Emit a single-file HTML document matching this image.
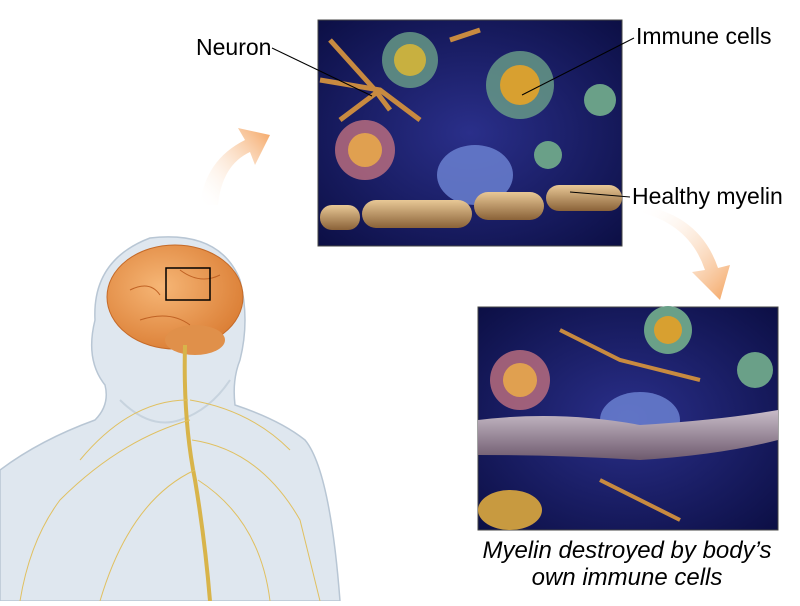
<!DOCTYPE html>
<html><head><style>
body{margin:0;background:#fff;width:800px;height:601px;overflow:hidden;font-family:"Liberation Sans",sans-serif}
</style></head><body>
<svg width="800" height="601" viewBox="0 0 800 601" xmlns="http://www.w3.org/2000/svg">
<defs>
<linearGradient id="ar1" x1="0" y1="1" x2="1" y2="0"><stop offset="0" stop-color="#fff" stop-opacity="0"/><stop offset="1" stop-color="#f4a460"/></linearGradient>
<linearGradient id="ar2" x1="0" y1="0" x2="1" y2="1"><stop offset="0" stop-color="#fff" stop-opacity="0"/><stop offset="1" stop-color="#f4a460"/></linearGradient>
<radialGradient id="bg1" cx="0.5" cy="0.5" r="0.7"><stop offset="0" stop-color="#2a2f8a"/><stop offset="1" stop-color="#0c0f45"/></radialGradient>
<radialGradient id="brain" cx="0.4" cy="0.4" r="0.7"><stop offset="0" stop-color="#f6b676"/><stop offset="1" stop-color="#d97a30"/></radialGradient>
<linearGradient id="myel" x1="0" y1="0" x2="0" y2="1"><stop offset="0" stop-color="#e8c896"/><stop offset="1" stop-color="#8a6238"/></linearGradient>
<linearGradient id="myel2" x1="0" y1="0" x2="0" y2="1"><stop offset="0" stop-color="#c8bcc8"/><stop offset="1" stop-color="#6e5a6e"/></linearGradient>
</defs>
<path d="M0 470 Q40 440 95 420 Q110 405 105 385 Q85 360 95 320 Q92 260 150 238 Q220 230 240 280 Q250 320 240 360 Q232 380 235 405 Q280 420 305 440 Q330 470 340 601 L0 601 Z" fill="#dfe7ef" stroke="#b8c6d4" stroke-width="1.5"/>
<path d="M120 400 Q150 430 180 420 Q210 410 230 380" fill="none" stroke="#c7d3de" stroke-width="2"/>
<ellipse cx="175" cy="297" rx="68" ry="52" fill="url(#brain)" stroke="#c56a28"/>
<ellipse cx="195" cy="340" rx="30" ry="15" fill="#e0904a"/>
<path d="M130 290 Q150 280 160 295 M180 270 Q200 285 220 275 M140 320 Q170 310 190 325" stroke="#c06224" fill="none"/>
<rect x="166" y="268" width="44" height="32" fill="none" stroke="#000" stroke-width="1.5"/>
<path d="M185 345 Q183 420 195 480 Q205 540 210 601" stroke="#d8b44a" stroke-width="4" fill="none"/>
<g stroke="#e0c060" stroke-width="1" fill="none">
<path d="M190 420 Q120 440 60 500 Q30 540 20 601"/><path d="M192 440 Q260 450 300 520 L320 601"/>
<path d="M195 470 Q130 500 100 601"/><path d="M198 480 Q260 520 270 601"/>
<path d="M188 400 Q130 400 80 460"/><path d="M190 400 Q250 410 290 450"/>
</g>
<path d="M200 205 Q205 160 245 140 L238 128 L270 135 L255 165 L250 152 Q222 165 218 205 Z" fill="url(#ar1)"/>
<path d="M640 212 Q690 225 705 270 L692 272 L720 300 L730 265 L718 268 Q700 215 640 205 Z" fill="url(#ar2)"/>
<rect x="318" y="20" width="304" height="226" fill="url(#bg1)" stroke="#444"/>
<g>
<circle cx="410" cy="60" r="28" fill="#6aa088" opacity=".8"/><circle cx="410" cy="60" r="16" fill="#c8b040"/>
<circle cx="520" cy="85" r="34" fill="#6aa088" opacity=".8"/><circle cx="520" cy="85" r="20" fill="#d8a030"/>
<circle cx="600" cy="100" r="16" fill="#6aa088"/><circle cx="548" cy="155" r="14" fill="#6aa088"/>
<circle cx="365" cy="150" r="30" fill="#c07080" opacity=".8"/><circle cx="365" cy="150" r="17" fill="#e0a050"/>
<ellipse cx="475" cy="175" rx="38" ry="30" fill="#6a80d0" opacity=".85"/>
<path d="M320 80 L380 90 L420 120 M330 40 L375 90 L390 110 M450 40 L480 30 M380 90 L340 120" stroke="#c88a40" stroke-width="5" fill="none"/>
<rect x="320" y="205" width="40" height="25" rx="12" fill="url(#myel)"/>
<rect x="362" y="200" width="110" height="28" rx="14" fill="url(#myel)"/>
<rect x="474" y="192" width="70" height="28" rx="14" fill="url(#myel)"/>
<rect x="546" y="185" width="76" height="26" rx="13" fill="url(#myel)"/>
</g>
<rect x="478" y="307" width="300" height="223" fill="url(#bg1)" stroke="#444"/>
<circle cx="520" cy="380" r="30" fill="#c07080" opacity=".8"/><circle cx="520" cy="380" r="17" fill="#e0a050"/>
<circle cx="668" cy="330" r="24" fill="#6aa088"/><circle cx="668" cy="330" r="14" fill="#d8a030"/>
<circle cx="755" cy="370" r="18" fill="#6aa088"/>
<ellipse cx="640" cy="420" rx="40" ry="28" fill="#6a80d0" opacity=".85"/>
<path d="M478 420 Q560 410 640 425 Q720 420 778 410 L778 440 Q720 455 640 460 Q560 455 478 455 Z" fill="url(#myel2)"/>
<ellipse cx="510" cy="510" rx="32" ry="20" fill="#c89a40"/>
<path d="M560 330 L620 360 L700 380 M600 480 L680 520" stroke="#c88a40" stroke-width="4" fill="none"/>
<g font-size="23" fill="#000">
<text x="196" y="55">Neuron</text>
<text x="636" y="44">Immune cells</text>
<text x="632" y="204">Healthy myelin</text>
<text x="627" y="558" text-anchor="middle" font-style="italic" font-size="24">Myelin destroyed by body’s</text>
<text x="627" y="585" text-anchor="middle" font-style="italic" font-size="24">own immune cells</text>
</g>
<g stroke="#000" stroke-width="1">
<line x1="272" y1="48" x2="372" y2="96"/>
<line x1="634" y1="38" x2="522" y2="95"/>
<line x1="630" y1="197" x2="570" y2="192"/>
</g>
</svg>
</body></html>
